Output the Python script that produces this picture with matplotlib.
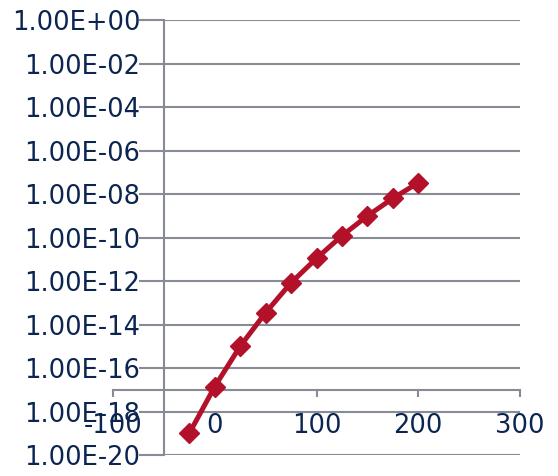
import matplotlib.pyplot as plt
from matplotlib.ticker import FixedLocator, FuncFormatter

plt.rcParams['axes.unicode_minus'] = False

# data
temps = [-25, 0, 25, 50, 75, 100, 125, 150, 175, 200]
values = [1.0e-19, 1.4e-17, 1.0e-15, 3.5e-14, 8.3e-13, 1.1e-11, 1.2e-10, 9.8e-10, 6.3e-9, 3.3e-8]
x_ticks = [-100, 0, 100, 200, 300]
y_ticks = [10.0 ** e for e in range(-20, 1, 2)]

text_col = '#0b2450'
axis_col = '#878b96'
line_col = '#b3102a'

fig = plt.figure(figsize=(5.58, 4.76), dpi=100)
ax = fig.add_axes([113 / 558, 1 - 455 / 476, 407 / 558, 435 / 476])

ax.set_yscale('log')
ax.set_xlim(-100, 300)
ax.set_ylim(1e-20, 1e0)

# gridlines only span from the vertical axis to the right edge
ax.hlines(y_ticks, -50, 300, color=axis_col, linewidth=1.5, zorder=1)

ax.plot(temps, values, color=line_col, linewidth=3.6, marker='D', markersize=10,
        zorder=3, clip_on=False)

for side in ['top', 'right']:
    ax.spines[side].set_visible(False)
ax.spines['left'].set_position(('data', -50))
ax.spines['bottom'].set_position(('data', 1e-17))
for side in ['left', 'bottom']:
    ax.spines[side].set_color(axis_col)
    ax.spines[side].set_linewidth(1.5)

ax.yaxis.set_major_locator(FixedLocator(y_ticks))
ax.yaxis.set_minor_locator(FixedLocator([]))
ax.yaxis.set_major_formatter(FuncFormatter(lambda v, p: f'{v:.2E}'))
ax.xaxis.set_major_locator(FixedLocator(x_ticks))

ax.tick_params(axis='y', length=18, width=1.5, color=axis_col, pad=-1,
               labelsize=18.5, labelcolor=text_col)
ax.tick_params(axis='x', length=5, width=1.5, color=axis_col, pad=12,
               labelsize=18.5, labelcolor=text_col)

ax.patch.set_visible(False)

plt.savefig('out.png', dpi=100)
